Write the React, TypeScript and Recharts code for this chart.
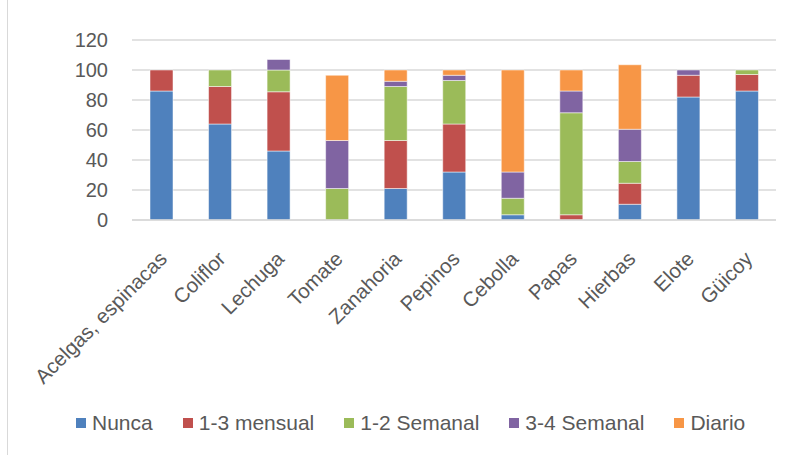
import React from 'react';
import { Bar, BarChart, CartesianGrid, Legend, XAxis, YAxis } from 'recharts';

const categories = [
  'Acelgas, espinacas',
  'Coliflor',
  'Lechuga',
  'Tomate',
  'Zanahoria',
  'Pepinos',
  'Cebolla',
  'Papas',
  'Hierbas',
  'Elote',
  'Güicoy',
];

const nunca = [86, 64, 46, 0, 21, 32, 3.5, 0, 10.5, 82, 86];
const mensual = [14, 25, 39.5, 0, 32, 32, 0, 3.5, 14, 14.5, 11];
const semanal12 = [0, 11, 14.5, 21, 36, 29, 11, 68, 14.5, 0, 3];
const semanal34 = [0, 0, 7, 32, 3.5, 3.5, 17.5, 14.5, 21.5, 3.5, 0];
const diario = [0, 0, 0, 43.5, 7.5, 3.5, 68, 14, 43, 0, 0];

const yTicks = [0, 20, 40, 60, 80, 100, 120];

const data = categories.map((name, i) => ({
  name,
  nunca: nunca[i],
  mensual: mensual[i],
  semanal12: semanal12[i],
  semanal34: semanal34[i],
  diario: diario[i],
}));

const series = [
  { key: 'nunca', label: 'Nunca', color: '#4f81bd' },
  { key: 'mensual', label: '1-3 mensual', color: '#c0504d' },
  { key: 'semanal12', label: '1-2 Semanal', color: '#9bbb59' },
  { key: 'semanal34', label: '3-4 Semanal', color: '#8064a2' },
  { key: 'diario', label: 'Diario', color: '#f79646' },
];

const FONT = "'Liberation Sans', Arial, sans-serif";
const TEXT = '#595959';

const XTick = (props: any) => {
  const { x, y, payload } = props;
  return (
    <g transform={`translate(${x + 2},${y + 27})`}>
      <text
        transform="rotate(-45)"
        textAnchor="end"
        dy="0.35em"
        fill={TEXT}
        fontSize={20.5}
        fontFamily={FONT}
      >
        {payload.value}
      </text>
    </g>
  );
};

const LegendContent = () => (
  <div
    style={{
      display: 'flex',
      gap: 30,
      fontFamily: FONT,
      fontSize: 21,
      color: TEXT,
      whiteSpace: 'nowrap',
    }}
  >
    {series.map((s) => (
      <div key={s.key} style={{ display: 'flex', alignItems: 'center' }}>
        <span
          style={{
            width: 10,
            height: 10,
            background: s.color,
            display: 'inline-block',
            marginRight: 6,
          }}
        />
        {s.label}
      </div>
    ))}
  </div>
);

export default function App() {
  return (
    <div
      style={{
        position: 'absolute',
        left: 0,
        top: 0,
        width: 791,
        height: 455,
        background: '#fff',
      }}
    >
      <div
        style={{
          position: 'absolute',
          left: 7,
          top: 0,
          width: 1,
          height: 455,
          background: '#d9d9d9',
        }}
      />
      <BarChart
        width={791}
        height={455}
        data={data}
        margin={{ top: 40, right: 15, left: 0, bottom: 0 }}
        barSize={23}
      >
        <CartesianGrid vertical={false} stroke="#d9d9d9" strokeWidth={1.5} />
        <XAxis
          dataKey="name"
          interval={0}
          tick={<XTick />}
          tickLine={false}
          axisLine={{ stroke: '#d9d9d9', strokeWidth: 1.5 }}
          height={211}
        />
        <YAxis
          domain={[0, 120]}
          ticks={yTicks}
          width={132}
          tickLine={false}
          axisLine={false}
          tickMargin={18}
          tick={{ fill: TEXT, fontSize: 20, fontFamily: FONT }}
        />
        <Legend
          verticalAlign="bottom"
          content={<LegendContent />}
          wrapperStyle={{ bottom: 20, left: 76, width: 'auto' }}
        />
        {series.map((s) => (
          <Bar
            key={s.key}
            dataKey={s.key}
            name={s.label}
            stackId="a"
            fill={s.color}
            stroke="#fff"
            strokeWidth={0.5}
            isAnimationActive={false}
          />
        ))}
      </BarChart>
    </div>
  );
}
